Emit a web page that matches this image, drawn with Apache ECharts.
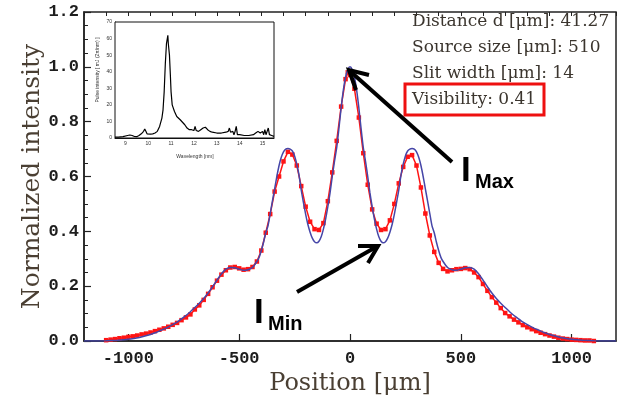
<!DOCTYPE html>
<html><head><meta charset="utf-8">
<script src="https://cdn.jsdelivr.net/npm/echarts@6/dist/echarts.min.js"></script>
<style>html,body{margin:0;padding:0;background:#fff}#c{width:622px;height:401px}</style>
</head><body><div id="c"></div>
<script>
// Theory curve (blue)
const bluePos = [-1200,-1150,-1100,-1050,-1000,-975,-950,-925,-900,-875,-850,-825,-800,-775,-750,-725,-700,-680,-660,-640,-620,-600,-580,-560,-540,-520,-500,-480,-460,-440,-420,-410,-400,-390,-380,-370,-360,-350,-340,-330,-320,-310,-300,-290,-280,-270,-260,-250,-240,-230,-220,-210,-200,-190,-180,-170,-160,-150,-140,-130,-120,-110,-100,-90,-80,-70,-60,-50,-40,-30,-20,-10,0,10,20,30,40,50,60,70,80,90,100,110,120,130,140,150,160,170,180,190,200,210,220,230,240,250,260,270,280,290,300,310,320,330,340,350,360,370,380,390,400,410,420,440,460,480,500,520,540,560,580,600,620,640,660,680,700,725,750,775,800,825,850,875,900,925,950,975,1000,1050,1100,1150,1200];
const blueVal = [0,0,0.001,0.003,0.006,0.009,0.013,0.018,0.024,0.031,0.04,0.049,0.06,0.072,0.087,0.103,0.122,0.138,0.155,0.175,0.198,0.222,0.245,0.262,0.268,0.267,0.262,0.258,0.26,0.268,0.29,0.305,0.33,0.36,0.395,0.42,0.465,0.51,0.555,0.6,0.64,0.67,0.69,0.70,0.702,0.70,0.693,0.675,0.645,0.605,0.55,0.505,0.462,0.425,0.397,0.375,0.362,0.358,0.364,0.38,0.408,0.445,0.49,0.54,0.6,0.655,0.705,0.775,0.85,0.915,0.963,0.99,1.0,0.99,0.963,0.915,0.85,0.775,0.705,0.655,0.6,0.54,0.49,0.445,0.408,0.38,0.364,0.358,0.362,0.375,0.397,0.425,0.462,0.505,0.55,0.605,0.645,0.675,0.693,0.70,0.702,0.70,0.69,0.67,0.64,0.6,0.555,0.51,0.465,0.42,0.395,0.36,0.33,0.305,0.29,0.268,0.26,0.258,0.262,0.267,0.268,0.262,0.245,0.222,0.198,0.175,0.155,0.138,0.122,0.103,0.087,0.072,0.06,0.049,0.04,0.031,0.024,0.018,0.013,0.009,0.006,0.003,0.001,0,0];

// Measured data (red)
const redPos = [-1100,-1080,-1060,-1040,-1020,-1000,-980,-960,-940,-920,-900,-880,-860,-840,-820,-800,-780,-760,-740,-720,-700,-680,-660,-640,-620,-600,-580,-560,-540,-520,-500,-480,-460,-440,-420,-400,-380,-360,-340,-320,-300,-280,-260,-240,-220,-200,-180,-160,-140,-120,-100,-80,-60,-40,-20,-10,0,20,40,60,80,100,120,140,160,180,200,220,240,260,280,300,320,340,360,380,400,420,440,460,480,500,520,540,560,580,600,620,640,660,680,700,720,740,760,780,800,820,840,860,880,900,920,940,960,980,1000,1020,1040,1060,1080,1100];
const redVal = [0.003,0.005,0.007,0.01,0.012,0.015,0.017,0.02,0.024,0.027,0.031,0.036,0.041,0.046,0.052,0.059,0.066,0.076,0.086,0.097,0.115,0.13,0.15,0.172,0.196,0.22,0.242,0.258,0.268,0.27,0.265,0.26,0.262,0.27,0.29,0.33,0.395,0.463,0.545,0.6,0.655,0.69,0.68,0.64,0.565,0.49,0.435,0.408,0.405,0.43,0.51,0.615,0.73,0.855,0.955,0.98,0.97,0.92,0.815,0.685,0.57,0.48,0.428,0.405,0.408,0.44,0.5,0.575,0.635,0.672,0.678,0.64,0.56,0.465,0.385,0.325,0.285,0.263,0.254,0.258,0.262,0.263,0.266,0.262,0.25,0.233,0.208,0.183,0.16,0.14,0.12,0.102,0.09,0.078,0.068,0.058,0.05,0.043,0.036,0.03,0.025,0.02,0.016,0.012,0.009,0.007,0.005,0.004,0.003,0.002,0.002,0];

// Inset spectrum
const specWl = [8.55,8.7,8.9,9.1,9.2,9.3,9.4,9.5,9.6,9.7,9.8,9.85,9.9,9.95,10.0,10.1,10.2,10.3,10.4,10.5,10.6,10.65,10.7,10.75,10.8,10.83,10.86,10.88,10.9,10.93,10.97,11.0,11.05,11.1,11.15,11.2,11.25,11.3,11.4,11.5,11.6,11.7,11.8,11.9,12.0,12.05,12.1,12.2,12.3,12.4,12.45,12.5,12.6,12.7,12.8,13.0,13.2,13.4,13.5,13.55,13.6,13.7,13.75,13.8,13.85,13.9,14.0,14.2,14.4,14.6,14.7,14.8,14.85,14.9,15.0,15.05,15.1,15.15,15.2,15.25,15.3,15.4,15.5];
const specVal = [0.5,0.5,0.8,1.5,1.8,1.5,0.9,0.8,1.5,2.5,4,5.5,4,2.5,2.2,2.3,2.5,3,4,7,12,17,28,45,57,58,62,57,58,50,38,28,20,19,16,16,13,12,11,9.5,8,6,5,5,4.5,7,4.5,4,5,6,7,6.5,5,4,3.5,3,3,3.5,4,6,3.5,4,2,4,7,2,2,1.5,1.5,2,3,4,5,3,4,2,5,2,4,6,2,1.5,1];

// Ticks and labels
const xTickValues = [-1000,-500,0,500,1000];
const insetXTicks = [9,10,11,12,13,14,15];
const infoLines = ['Distance d [\u03bcm]: 41.27','Source size [\u03bcm]: 510','Slit width [\u03bcm]: 14','Visibility: 0.41'];

const tickFont = {fontFamily:'Liberation Mono', fontWeight:'bold', fontSize:17, color:'#1e1e1e'};
const nameFont = {fontFamily:'DejaVu Serif', fontSize:24, color:'#4a3f33'};
const axisCol = '#222';

const chart = echarts.init(document.getElementById('c'), null, {renderer:'canvas'});

const graphics = [];
infoLines.forEach((t,i)=>{
  graphics.push({type:'text', x:412, y:[22,48,74,100][i], z:100,
    style:{text:t, font:'17px "DejaVu Serif"', fill:'#3b352e', textAlign:'left', textVerticalAlign:'middle'}});
});
graphics.push({type:'rect', z:100, shape:{x:405,y:84,width:139,height:31},
  style:{fill:'none', stroke:'#ee1010', lineWidth:3}});
// I_Max annotation
graphics.push({type:'line', z:100, shape:{x1:452,y1:162,x2:351,y2:72}, style:{stroke:'#000', lineWidth:4}});
graphics.push({type:'polyline', z:100, shape:{points:[[369,75],[349,70],[356,90]]}, style:{stroke:'#000', lineWidth:4, fill:'none'}});
graphics.push({type:'text', z:100, x:461, y:171, style:{text:'I', font:'bold 35px "Liberation Sans"', fill:'#000', textAlign:'left', textVerticalAlign:'middle'}});
graphics.push({type:'text', z:100, x:475, y:182, style:{text:'Max', font:'bold 20px "Liberation Sans"', fill:'#000', textAlign:'left', textVerticalAlign:'middle'}});
// I_Min annotation
graphics.push({type:'line', z:100, shape:{x1:297,y1:292,x2:376,y2:247}, style:{stroke:'#000', lineWidth:4}});
graphics.push({type:'polyline', z:100, shape:{points:[[358,246],[378,246],[368,263]]}, style:{stroke:'#000', lineWidth:4, fill:'none'}});
graphics.push({type:'text', z:100, x:254, y:313, style:{text:'I', font:'bold 35px "Liberation Sans"', fill:'#000', textAlign:'left', textVerticalAlign:'middle'}});
graphics.push({type:'text', z:100, x:268, y:324, style:{text:'Min', font:'bold 20px "Liberation Sans"', fill:'#000', textAlign:'left', textVerticalAlign:'middle'}});
// inset axis names
graphics.push({type:'text', z:100, x:195, y:157, style:{text:'Wavelength [nm]', font:'5px "Liberation Sans"', fill:'#333', textAlign:'center', textVerticalAlign:'middle'}});
graphics.push({type:'text', z:100, x:98, y:70, rotation:Math.PI/2, style:{text:'Pulse intensity [ mJ (2\u03c0/nm) ]', font:'5px "Liberation Sans"', fill:'#333', textAlign:'center', textVerticalAlign:'middle'}});

chart.setOption({
  animation:false,
  backgroundColor:'#fff',
  grid:[
    {left:84, top:12, width:532, height:329, show:true, borderColor:axisCol, borderWidth:1.5, backgroundColor:'transparent'},
    {left:115, top:22, width:159, height:116, show:true, borderColor:'#111', borderWidth:1, backgroundColor:'#fff', z:5}
  ],
  xAxis:[
    {type:'value', gridIndex:0, min:-1200, max:1200,
     axisLine:{show:true, onZero:false, lineStyle:{color:axisCol, width:1.5}},
     axisTick:{show:true, inside:true, length:7, customValues:xTickValues, lineStyle:{color:axisCol, width:1.2}},
     axisLabel:{customValues:xTickValues, margin:9, formatter:v=>String(v), ...tickFont},
     splitLine:{show:false},
     name:'Position [\u03bcm]', nameLocation:'middle', nameGap:30, nameTextStyle:nameFont},
    {type:'value', gridIndex:0, min:-1200, max:1200, interval:100,
     axisLine:{show:false, onZero:false}, axisLabel:{show:false}, splitLine:{show:false},
     axisTick:{show:true, inside:true, length:4, lineStyle:{color:axisCol, width:1}}},
    {type:'value', gridIndex:1, min:8.55, max:15.5,
     axisLine:{show:true, onZero:false, lineStyle:{color:'#111', width:1}},
     axisTick:{show:true, inside:true, length:2, customValues:insetXTicks, lineStyle:{color:'#111', width:0.6}},
     axisLabel:{customValues:insetXTicks, margin:3, fontSize:5, color:'#333', fontFamily:'Liberation Sans'},
     splitLine:{show:false}}
  ],
  yAxis:[
    {type:'value', gridIndex:0, min:0, max:1.2, interval:0.2,
     axisLine:{show:true, onZero:false, lineStyle:{color:axisCol, width:1.5}},
     axisTick:{show:true, inside:true, length:7, lineStyle:{color:axisCol, width:1.2}},
     minorTick:{show:true, splitNumber:4, length:4, lineStyle:{color:axisCol, width:1}},
     axisLabel:{margin:5, formatter:v=>v.toFixed(1), ...tickFont},
     splitLine:{show:false},
     name:'Normalized intensity', nameLocation:'middle', nameGap:39, nameMoveOverlap:false, nameTextStyle:{...nameFont, fontSize:25}},
    {type:'value', gridIndex:1, min:0, max:70, interval:10,
     axisLine:{show:true, onZero:false, lineStyle:{color:'#111', width:1}},
     axisTick:{show:true, inside:true, length:2, lineStyle:{color:'#111', width:0.6}},
     axisLabel:{margin:3, fontSize:5, color:'#333', fontFamily:'Liberation Sans'},
     splitLine:{show:false}}
  ],
  series:[
    {type:'line', xAxisIndex:0, yAxisIndex:0, data:redPos.map((p,i)=>[p,redVal[i]]),
     lineStyle:{color:'#ff1414', width:1.5}, itemStyle:{color:'#ff1414'},
     symbol:'rect', symbolSize:4.5, showSymbol:true, z:3},
    {type:'line', xAxisIndex:0, yAxisIndex:0, data:bluePos.map((p,i)=>[p,blueVal[i]]),
     lineStyle:{color:'#4646a8', width:1.5}, symbol:'none', smooth:0.2, z:4},
    {type:'line', xAxisIndex:2, yAxisIndex:1, data:specWl.map((p,i)=>[p,specVal[i]]),
     lineStyle:{color:'#000', width:1.2}, symbol:'none', z:6}
  ],
  graphic:graphics
});
</script></body></html>
